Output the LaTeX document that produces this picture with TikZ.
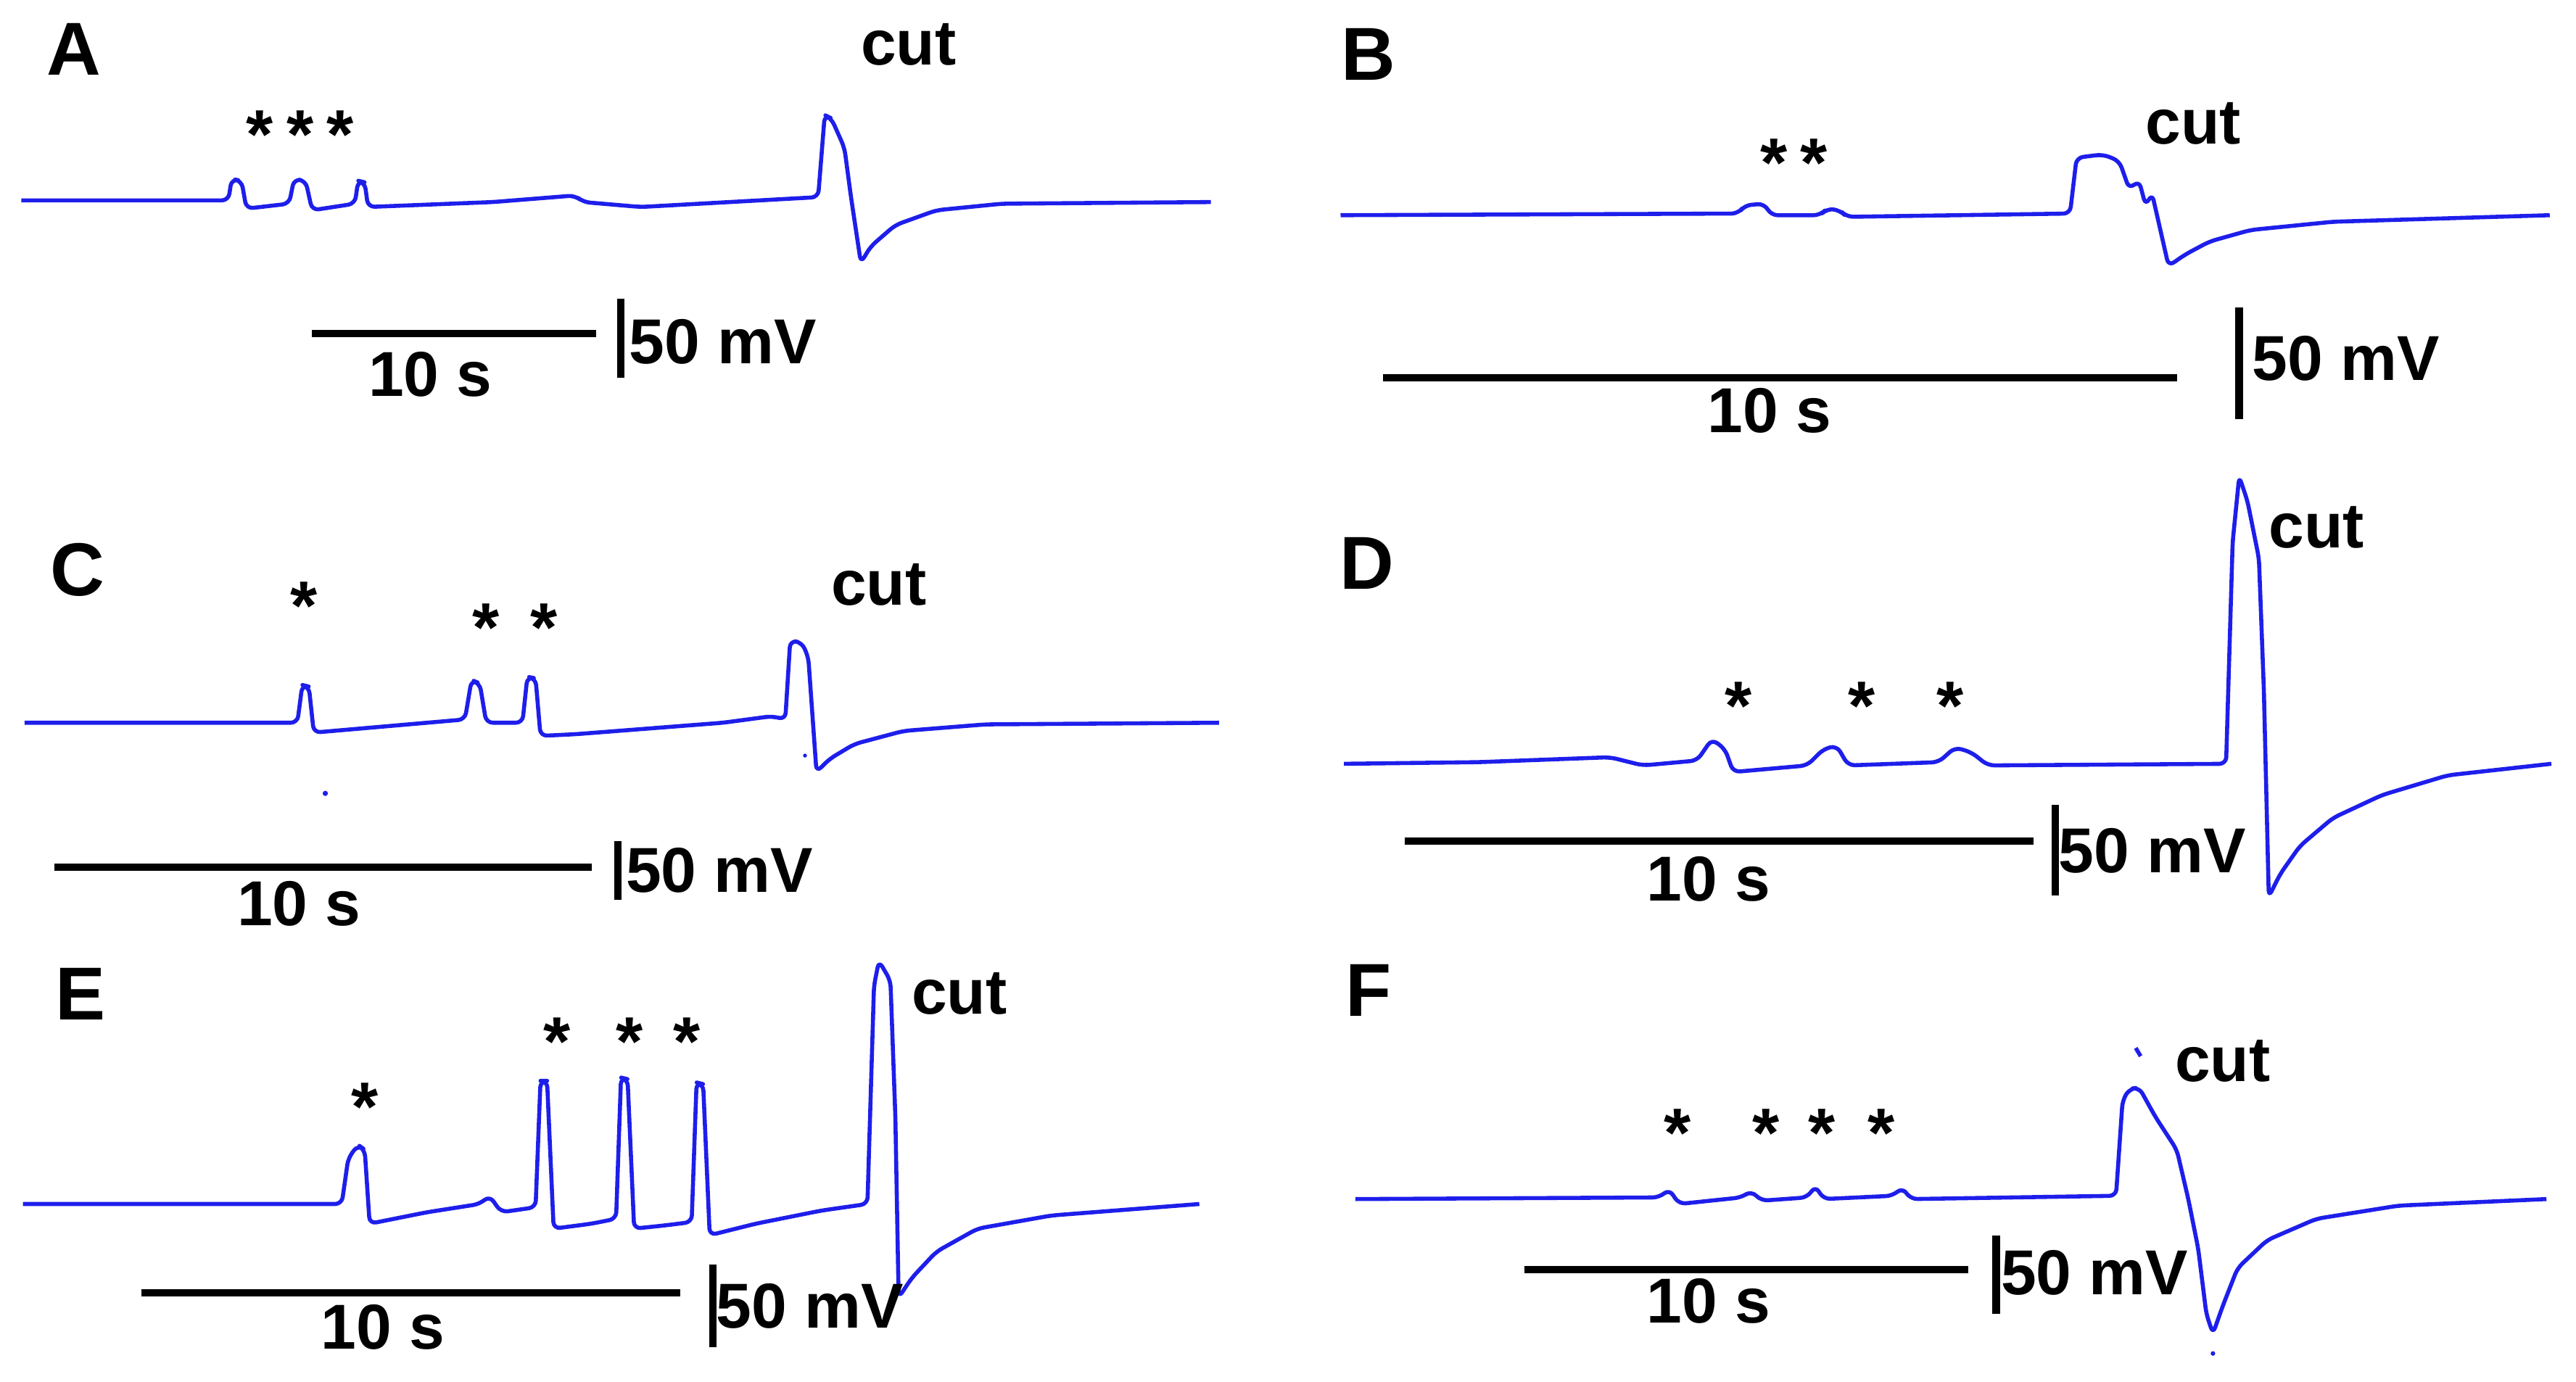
\documentclass[tikz,border=0pt]{standalone}
\usepackage{fontspec}
\setmainfont{Liberation Sans}
\definecolor{tr}{RGB}{30,30,235}
\begin{document}
\begin{tikzpicture}[x=0.1mm,y=-0.1mm,
  trace/.style={tr,line width=0.7pt,line join=round,rounded corners=0.4mm},
  bar/.style={black,line width=1.3pt},
  lab/.style={font=\bfseries\fontsize{13}{13}\selectfont},
  txt/.style={font=\bfseries\fontsize{11}{11}\selectfont},
  st/.style={font=\bfseries\fontsize{12}{12}\selectfont}]
\useasboundingbox (0,0) rectangle (1568,841);
% A
\node[lab] (la) at (45,30) {A};
\draw[trace] (13,122) -- (139,122) -- (141,109) -- (147,110) -- (150,127) -- (176,124) -- (179,109) -- (186,110) -- (190,128) -- (216,124) -- (218,110) -- (222,111) -- (224,126) -- (300,123) -- (350,119) -- (355,123) -- (390,126) -- (498,120) -- (502,70) -- (506,72) -- (514,90) -- (518,120) -- (524,160) -- (530,150) -- (545,137) -- (570,128) -- (610,124) -- (737,123);
\foreach \x in {158,183,207} \node[st] at (\x,82) {*};
\node[txt] at (553,27) {cut};
\draw[bar] (190,203) -- (363,203); \node[txt] at (262,228) {10 s};
\draw[bar] (378,182) -- (378,230); \node[txt] at (440,208) {50 mV};
% B
\node[lab] (lb) at (833,33) {B};
\draw[trace] (816,131) -- (1058,130) -- (1062,125) -- (1074,124) -- (1078,131) -- (1108,131) -- (1112,127) -- (1120,128) -- (1124,132) -- (1260,130) -- (1264,96) -- (1280,94) -- (1290,98) -- (1296,115) -- (1302,110) -- (1306,125) -- (1310,118) -- (1315,140) -- (1320,162) -- (1330,155) -- (1345,147) -- (1370,140) -- (1420,135) -- (1552,131);
\foreach \x in {1080,1104} \node[st] at (\x,99) {*};
\node[txt] at (1335,75) {cut};
\draw[bar] (842,230) -- (1325,230); \node[txt] at (1077,250) {10 s};
\draw[bar] (1363,187) -- (1363,255); \node[txt] at (1428,218) {50 mV};
% C
\node[lab] (lc) at (47,347) {C};
\draw[trace] (15,440) -- (181,440) -- (184,417) -- (188,418) -- (191,446) -- (283,438) -- (287,414) -- (292,416) -- (296,440) -- (318,440) -- (321,412) -- (326,413) -- (329,448) -- (350,447) -- (440,440) -- (470,436) -- (478,438) -- (481,390) -- (488,391) -- (492,400) -- (497,470) -- (505,462) -- (520,453) -- (550,445) -- (600,441) -- (742,440);
\fill[tr] (198,483) circle (1.6); \fill[tr] (490,460) circle (1.2);
\node[st] at (185,369) {*}; \node[st] at (296,382) {*}; \node[st] at (331,382) {*};
\node[txt] at (535,356) {cut};
\draw[bar] (33,528) -- (360,528); \node[txt] at (182,550) {10 s};
\draw[bar] (376,512) -- (376,548); \node[txt] at (438,530) {50 mV};
% D
\node[lab] (ld) at (832,343) {D};
\draw[trace] (818,465) -- (900,464) -- (980,461) -- (1000,466) -- (1033,463) -- (1042,450) -- (1050,456) -- (1055,470) -- (1100,466) -- (1110,456) -- (1118,454) -- (1125,466) -- (1180,464) -- (1190,455) -- (1200,458) -- (1210,466) -- (1355,465) -- (1359,330) -- (1363,290) -- (1368,305) -- (1375,340) -- (1378,420) -- (1381,546) -- (1388,532) -- (1400,515) -- (1420,498) -- (1450,484) -- (1490,472) -- (1553,465);
\foreach \x in {1058,1133,1187} \node[st] at (\x,430) {*};
\node[txt] at (1410,321) {cut};
\draw[bar] (855,512) -- (1238,512); \node[txt] at (1040,535) {10 s};
\draw[bar] (1251,490) -- (1251,545); \node[txt] at (1310,518) {50 mV};
% E
\node[lab] (le) at (49,605) {E};
\draw[trace] (14,733) -- (208,733) -- (212,705) -- (218,697) -- (222,700) -- (225,745) -- (260,738) -- (292,733) -- (298,728) -- (305,738) -- (326,735) -- (329,658) -- (333,658) -- (337,748) -- (360,745) -- (375,742) -- (378,656) -- (382,657) -- (386,748) -- (405,746) -- (421,744) -- (424,659) -- (428,660) -- (432,752) -- (460,745) -- (500,737) -- (528,733) -- (532,600) -- (535,585) -- (542,597) -- (545,680) -- (547,790) -- (555,778) -- (570,762) -- (595,748) -- (640,740) -- (730,733);
\node[st] at (222,674) {*};
\foreach \x in {339,383,418} \node[st] at (\x,634) {*};
\node[txt] at (584,605) {cut};
\draw[bar] (86,787) -- (414,787); \node[txt] at (233,808) {10 s};
\draw[bar] (434,770) -- (434,820); \node[txt] at (493,795) {50 mV};
% F
\node[lab] (lf) at (833,603) {F};
\draw[trace] (825,730) -- (1010,729) -- (1016,724) -- (1022,733) -- (1060,729) -- (1066,725) -- (1072,731) -- (1100,729) -- (1105,722) -- (1110,730) -- (1152,728) -- (1158,723) -- (1163,730) -- (1288,728) -- (1292,670) -- (1296,663) -- (1302,662) -- (1312,680) -- (1325,700) -- (1332,730) -- (1338,760) -- (1343,800) -- (1347,812) -- (1353,795) -- (1362,772) -- (1380,755) -- (1410,742) -- (1460,734) -- (1550,730);
\fill[tr] (1347,824) circle (1.4);
\draw[trace] (1300,638) -- (1303,643);
\foreach \x in {1021,1075,1109,1145} \node[st] at (\x,690) {*};
\node[txt] at (1353,646) {cut};
\draw[bar] (928,773) -- (1198,773); \node[txt] at (1040,792) {10 s};
\draw[bar] (1215,752) -- (1215,800); \node[txt] at (1275,775) {50 mV};
\end{tikzpicture}
\end{document}
